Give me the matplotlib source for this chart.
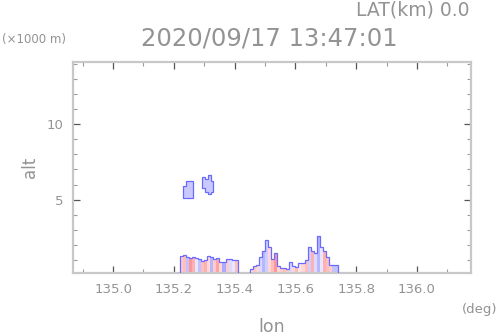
import numpy as np
import matplotlib
matplotlib.use("Agg")
import matplotlib.pyplot as plt
from matplotlib.colors import LinearSegmentedColormap, Normalize
from matplotlib.ticker import MultipleLocator, FixedLocator

# ---- data ----
# low-level echo, western cell (column left edges, 0.01 deg wide)
west_lon = [135.22, 135.23, 135.24, 135.25, 135.26, 135.27, 135.28, 135.29, 135.30, 135.31,
            135.32, 135.33, 135.34, 135.35, 135.36, 135.37, 135.38, 135.39, 135.40]
west_top = [1.30, 1.35, 1.20, 1.15, 1.20, 1.15, 1.10, 0.95, 1.00, 1.25,
            1.20, 1.10, 1.15, 0.90, 0.85, 1.05, 1.05, 1.00, 1.00]
west_val = [0.4, 0.5, -0.5, 0.8, 0.6, -0.2, -0.5, 0.5, 0.6, 0.3,
            -0.6, 0.4, 0.7, 0.3, -0.7, 0.4, -0.3, -0.2, 0.5]

# low-level echo, eastern cell
east_lon = [135.45, 135.46, 135.47, 135.48, 135.49, 135.50, 135.51, 135.52, 135.53, 135.54,
            135.55, 135.56, 135.57, 135.58, 135.59, 135.60, 135.61, 135.62, 135.63, 135.64,
            135.65, 135.66, 135.67, 135.68, 135.69, 135.70, 135.71, 135.72, 135.73]
east_top = [0.40, 0.60, 0.65, 1.20, 1.60, 2.30, 1.90, 1.10, 1.50, 0.60,
            0.50, 0.45, 0.40, 0.90, 0.60, 0.55, 0.80, 0.80, 1.00, 1.90,
            1.60, 1.50, 2.60, 1.90, 1.60, 1.20, 0.70, 0.70, 0.70]
east_val = [0.2, 0.4, 0.3, -0.3, -0.6, -0.4, 0.3, 0.5, 0.8, 0.3,
            0.4, 0.5, 0.4, -0.3, 0.3, 0.5, 0.2, 0.3, 0.5, -0.4,
            0.6, -0.3, -0.6, -0.2, 0.6, 0.5, 0.4, -0.5, -0.5]
col_width = 0.01

# upper isolated echoes (edges, bottoms, tops)
blob1_edges = [135.230, 135.241, 135.252, 135.263]
blob1_bot = [5.10, 5.10, 5.10]
blob1_top = [5.90, 6.25, 6.20]
blob2_edges = [135.292, 135.302, 135.311, 135.321, 135.330]
blob2_bot = [5.75, 5.50, 5.40, 5.50]
blob2_top = [6.50, 6.35, 6.60, 6.20]
blob_val = -0.45

xticks = [135.0, 135.2, 135.4, 135.6, 135.8, 136.0]
xticklabels = ["135.0", "135.2", "135.4", "135.6", "135.8", "136.0"]
yticks = [5, 10]
yticklabels = ["5", "10"]

title = "2020/09/17 13:47:01"
lat_text = "LAT(km) 0.0"
unit_y = "(\u00d71000 m)"
unit_x = "(deg)"

# ---- plot ----
XMIN, XMAX = 134.868, 136.178
YMIN, YMAX = 0.15, 14.1
TXT = "#939393"

fig = plt.figure(figsize=(4.98, 3.36), dpi=100)
ax = fig.add_axes([73 / 498, 1 - 273 / 336, (471 - 73) / 498, (273 - 62) / 336])

cmap = LinearSegmentedColormap.from_list("vel", ["#6e6eff", "#ffffff", "#ff6464"])
norm = Normalize(-1.2, 1.2)
outline = "#6a6aff"

for lon, top, val in ((west_lon, west_top, west_val), (east_lon, east_top, east_val)):
    lon = np.asarray(lon)
    top = np.asarray(top)
    ax.bar(lon, top - YMIN, width=col_width, bottom=YMIN, align="edge",
           color=cmap(norm(np.asarray(val))), linewidth=0, zorder=2)
    edges = np.append(lon, lon[-1] + col_width)
    ax.stairs(top, edges, baseline=YMIN, fill=False, color=outline, linewidth=0.9, zorder=3)

for edges, bot, top in ((blob1_edges, blob1_bot, blob1_top), (blob2_edges, blob2_bot, blob2_top)):
    edges = np.asarray(edges)
    bot = np.asarray(bot)
    top = np.asarray(top)
    ax.bar(edges[:-1], top - bot, width=np.diff(edges), bottom=bot, align="edge",
           color=cmap(norm(blob_val)), linewidth=0, zorder=2)
    ax.stairs(top, edges, baseline=bot, fill=False, color=outline, linewidth=0.9, zorder=3)

ax.set_xlim(XMIN, XMAX)
ax.set_ylim(YMIN, YMAX)

for s in ax.spines.values():
    s.set_color("#c8c8c8")
    s.set_linewidth(1.6)

ax.xaxis.set_major_locator(FixedLocator(xticks))
ax.set_xticklabels(xticklabels)
ax.xaxis.set_minor_locator(MultipleLocator(0.1))
ax.yaxis.set_major_locator(FixedLocator(yticks))
ax.set_yticklabels(yticklabels)
ax.yaxis.set_minor_locator(MultipleLocator(1))

ax.tick_params(which="both", direction="in", top=True, right=True)
ax.tick_params(which="major", length=5, width=0.9, color="#555555",
               labelsize=9.5, labelcolor=TXT, pad=7)
ax.tick_params(which="minor", length=2.8, width=0.8, color="#9a9a9a")

fig.text(30 / 498, 1 - 167 / 336, "alt", rotation=90, ha="center", va="center",
         fontsize=12, color=TXT)
fig.text(272 / 498, 1 - 327 / 336, "lon", ha="center", va="center",
         fontsize=12.5, color=TXT)

fig.text(269 / 498, 1 - 39 / 336, title, ha="center", va="center", fontsize=17.5, color=TXT)
fig.text(469 / 498, 1 - 10 / 336, lat_text, ha="right", va="center", fontsize=13.5, color=TXT)
fig.text(2 / 498, 1 - 40 / 336, unit_y, ha="left", va="center", fontsize=8.5, color=TXT)
fig.text(497 / 498, 1 - 309 / 336, unit_x, ha="right", va="center", fontsize=9.5, color=TXT)

fig.savefig("out.png", dpi=100)
